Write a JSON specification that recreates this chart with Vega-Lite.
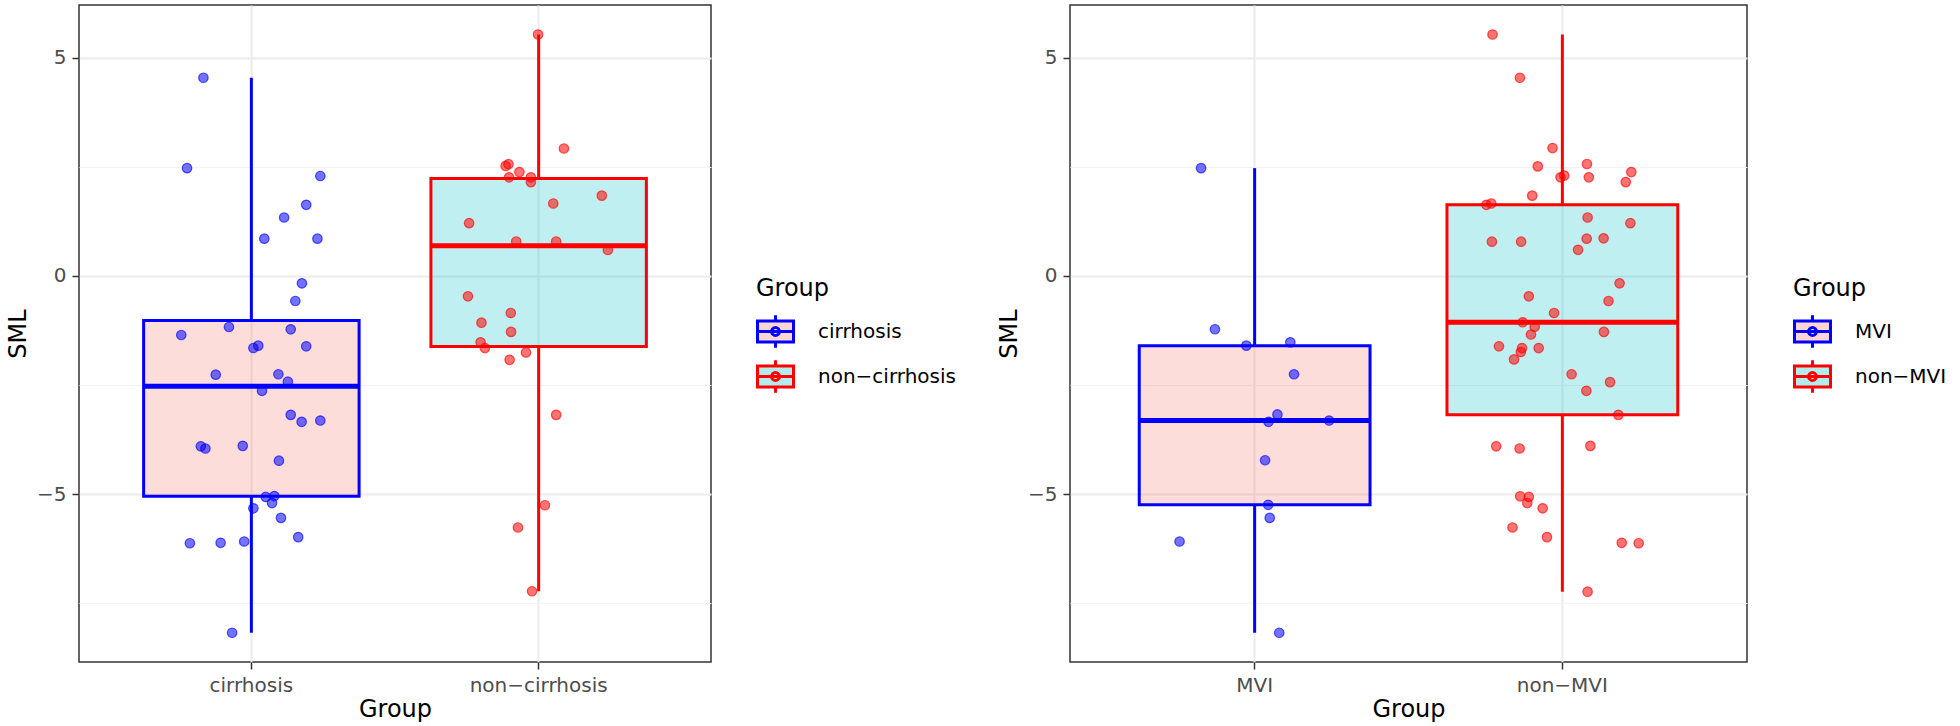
{
  "$schema": "https://vega.github.io/schema/vega-lite/v6.json",
  "background": "white",
  "padding": {"left": 5, "top": 4, "right": 0, "bottom": 0},
  "spacing": 39,
  "datasets": {
    "cirrhosis": [
      {"group": "cirrhosis", "sml": 4.54, "jitter": -0.167},
      {"group": "cirrhosis", "sml": 2.47, "jitter": -0.224},
      {"group": "cirrhosis", "sml": 2.29, "jitter": 0.24},
      {"group": "cirrhosis", "sml": 1.63, "jitter": 0.191},
      {"group": "cirrhosis", "sml": 1.34, "jitter": 0.114},
      {"group": "cirrhosis", "sml": 0.855, "jitter": 0.045},
      {"group": "cirrhosis", "sml": 0.855, "jitter": 0.23},
      {"group": "cirrhosis", "sml": -0.168, "jitter": 0.176},
      {"group": "cirrhosis", "sml": -0.573, "jitter": 0.153},
      {"group": "cirrhosis", "sml": -1.351, "jitter": -0.244},
      {"group": "cirrhosis", "sml": -1.168, "jitter": -0.078},
      {"group": "cirrhosis", "sml": -1.221, "jitter": 0.137},
      {"group": "cirrhosis", "sml": -1.649, "jitter": 0.007},
      {"group": "cirrhosis", "sml": -1.595, "jitter": 0.024},
      {"group": "cirrhosis", "sml": -1.61, "jitter": 0.191},
      {"group": "cirrhosis", "sml": -2.26, "jitter": -0.124},
      {"group": "cirrhosis", "sml": -2.25, "jitter": 0.094},
      {"group": "cirrhosis", "sml": -2.42, "jitter": 0.127},
      {"group": "cirrhosis", "sml": -2.63, "jitter": 0.037},
      {"group": "cirrhosis", "sml": -3.18, "jitter": 0.137},
      {"group": "cirrhosis", "sml": -3.34, "jitter": 0.175},
      {"group": "cirrhosis", "sml": -3.31, "jitter": 0.24},
      {"group": "cirrhosis", "sml": -3.9, "jitter": -0.176},
      {"group": "cirrhosis", "sml": -3.95, "jitter": -0.16},
      {"group": "cirrhosis", "sml": -3.89, "jitter": -0.03},
      {"group": "cirrhosis", "sml": -4.23, "jitter": 0.096},
      {"group": "cirrhosis", "sml": -5.06, "jitter": 0.05},
      {"group": "cirrhosis", "sml": -5.04, "jitter": 0.08},
      {"group": "cirrhosis", "sml": -5.2, "jitter": 0.072},
      {"group": "cirrhosis", "sml": -5.32, "jitter": 0.007},
      {"group": "cirrhosis", "sml": -5.54, "jitter": 0.103},
      {"group": "cirrhosis", "sml": -6.12, "jitter": -0.214},
      {"group": "cirrhosis", "sml": -6.11, "jitter": -0.107},
      {"group": "cirrhosis", "sml": -6.08, "jitter": -0.025},
      {"group": "cirrhosis", "sml": -5.98, "jitter": 0.163},
      {"group": "cirrhosis", "sml": -8.17, "jitter": -0.067},
      {"group": "non-cirrhosis", "sml": 5.53, "jitter": -0.002},
      {"group": "non-cirrhosis", "sml": 2.92, "jitter": 0.088},
      {"group": "non-cirrhosis", "sml": 2.52, "jitter": -0.115},
      {"group": "non-cirrhosis", "sml": 2.56, "jitter": -0.105},
      {"group": "non-cirrhosis", "sml": 2.38, "jitter": -0.067},
      {"group": "non-cirrhosis", "sml": 2.26, "jitter": -0.103},
      {"group": "non-cirrhosis", "sml": 2.26, "jitter": -0.027},
      {"group": "non-cirrhosis", "sml": 2.15, "jitter": -0.027},
      {"group": "non-cirrhosis", "sml": 1.84, "jitter": 0.22},
      {"group": "non-cirrhosis", "sml": 1.66, "jitter": 0.051},
      {"group": "non-cirrhosis", "sml": 1.21, "jitter": -0.242},
      {"group": "non-cirrhosis", "sml": 0.79, "jitter": -0.078},
      {"group": "non-cirrhosis", "sml": 0.79, "jitter": 0.061},
      {"group": "non-cirrhosis", "sml": 0.595, "jitter": 0.241},
      {"group": "non-cirrhosis", "sml": -0.466, "jitter": -0.246},
      {"group": "non-cirrhosis", "sml": -0.847, "jitter": -0.097},
      {"group": "non-cirrhosis", "sml": -1.07, "jitter": -0.199},
      {"group": "non-cirrhosis", "sml": -1.28, "jitter": -0.096},
      {"group": "non-cirrhosis", "sml": -1.52, "jitter": -0.202},
      {"group": "non-cirrhosis", "sml": -1.65, "jitter": -0.187},
      {"group": "non-cirrhosis", "sml": -1.75, "jitter": -0.044},
      {"group": "non-cirrhosis", "sml": -1.92, "jitter": -0.101},
      {"group": "non-cirrhosis", "sml": -3.18, "jitter": 0.061},
      {"group": "non-cirrhosis", "sml": -5.25, "jitter": 0.022},
      {"group": "non-cirrhosis", "sml": -5.76, "jitter": -0.072},
      {"group": "non-cirrhosis", "sml": -7.22, "jitter": -0.023}
    ],
    "mvi": [
      {"group": "MVI", "sml": 2.47, "jitter": -0.174},
      {"group": "MVI", "sml": -1.22, "jitter": -0.129},
      {"group": "MVI", "sml": -1.595, "jitter": -0.027},
      {"group": "MVI", "sml": -1.52, "jitter": 0.116},
      {"group": "MVI", "sml": -2.25, "jitter": 0.128},
      {"group": "MVI", "sml": -3.17, "jitter": 0.074},
      {"group": "MVI", "sml": -3.34, "jitter": 0.045},
      {"group": "MVI", "sml": -3.31, "jitter": 0.242},
      {"group": "MVI", "sml": -4.22, "jitter": 0.034},
      {"group": "MVI", "sml": -5.24, "jitter": 0.044},
      {"group": "MVI", "sml": -5.54, "jitter": 0.049},
      {"group": "MVI", "sml": -6.08, "jitter": -0.244},
      {"group": "MVI", "sml": -8.17, "jitter": 0.08},
      {"group": "non-MVI", "sml": 5.53, "jitter": -0.227},
      {"group": "non-MVI", "sml": 4.54, "jitter": -0.138},
      {"group": "non-MVI", "sml": 2.93, "jitter": -0.032},
      {"group": "non-MVI", "sml": 2.51, "jitter": -0.08},
      {"group": "non-MVI", "sml": 2.565, "jitter": 0.08},
      {"group": "non-MVI", "sml": 2.38, "jitter": 0.224},
      {"group": "non-MVI", "sml": 2.26, "jitter": -0.006},
      {"group": "non-MVI", "sml": 2.3, "jitter": 0.006},
      {"group": "non-MVI", "sml": 2.26, "jitter": 0.086},
      {"group": "non-MVI", "sml": 2.15, "jitter": 0.206},
      {"group": "non-MVI", "sml": 1.84, "jitter": -0.098},
      {"group": "non-MVI", "sml": 1.63, "jitter": -0.247},
      {"group": "non-MVI", "sml": 1.66, "jitter": -0.231},
      {"group": "non-MVI", "sml": 1.34, "jitter": 0.082},
      {"group": "non-MVI", "sml": 1.21, "jitter": 0.221},
      {"group": "non-MVI", "sml": 0.785, "jitter": -0.229},
      {"group": "non-MVI", "sml": 0.785, "jitter": -0.134},
      {"group": "non-MVI", "sml": 0.855, "jitter": 0.079},
      {"group": "non-MVI", "sml": 0.863, "jitter": 0.134},
      {"group": "non-MVI", "sml": 0.6, "jitter": 0.051},
      {"group": "non-MVI", "sml": -0.168, "jitter": 0.186},
      {"group": "non-MVI", "sml": -0.466, "jitter": -0.109},
      {"group": "non-MVI", "sml": -0.573, "jitter": 0.15},
      {"group": "non-MVI", "sml": -0.847, "jitter": -0.027},
      {"group": "non-MVI", "sml": -1.06, "jitter": -0.129},
      {"group": "non-MVI", "sml": -1.16, "jitter": -0.09},
      {"group": "non-MVI", "sml": -1.28, "jitter": 0.135},
      {"group": "non-MVI", "sml": -1.34, "jitter": -0.102},
      {"group": "non-MVI", "sml": -1.61, "jitter": -0.206},
      {"group": "non-MVI", "sml": -1.65, "jitter": -0.131},
      {"group": "non-MVI", "sml": -1.65, "jitter": -0.077},
      {"group": "non-MVI", "sml": -1.74, "jitter": -0.135},
      {"group": "non-MVI", "sml": -1.91, "jitter": -0.157},
      {"group": "non-MVI", "sml": -2.25, "jitter": 0.03},
      {"group": "non-MVI", "sml": -2.43, "jitter": 0.155},
      {"group": "non-MVI", "sml": -2.63, "jitter": 0.078},
      {"group": "non-MVI", "sml": -3.18, "jitter": 0.182},
      {"group": "non-MVI", "sml": -3.9, "jitter": -0.215},
      {"group": "non-MVI", "sml": -3.95, "jitter": -0.139},
      {"group": "non-MVI", "sml": -3.89, "jitter": 0.091},
      {"group": "non-MVI", "sml": -5.045, "jitter": -0.137},
      {"group": "non-MVI", "sml": -5.06, "jitter": -0.109},
      {"group": "non-MVI", "sml": -5.2, "jitter": -0.114},
      {"group": "non-MVI", "sml": -5.32, "jitter": -0.064},
      {"group": "non-MVI", "sml": -5.76, "jitter": -0.162},
      {"group": "non-MVI", "sml": -5.98, "jitter": -0.05},
      {"group": "non-MVI", "sml": -6.11, "jitter": 0.193},
      {"group": "non-MVI", "sml": -6.12, "jitter": 0.248},
      {"group": "non-MVI", "sml": -7.23, "jitter": 0.082}
    ]
  },
  "hconcat": [
    {
      "width": 632,
      "height": 657,
      "data": {"name": "cirrhosis"},
      "encoding": {
        "x": {"field": "group", "type": "nominal", "sort": ["cirrhosis", "non-cirrhosis"],
          "scale": {"paddingInner": 0.25, "paddingOuter": 0.225},
          "axis": {"title": "Group", "labelAngle": 0, "labelExpr": "replace(datum.label, '-', '−')", "grid": true, "bandPosition": 0.5, "titlePadding": 2, "labelPadding": 6}}
      },
      "layer": [
        {
          "transform": [{"aggregate": [
            {"op": "q1", "field": "sml", "as": "q1"},
            {"op": "q3", "field": "sml", "as": "q3"},
            {"op": "median", "field": "sml", "as": "median"},
            {"op": "min", "field": "sml", "as": "lo"},
            {"op": "max", "field": "sml", "as": "hi"}], "groupby": ["group"]}],
          "layer": [
            {"mark": {"type": "rule", "strokeWidth": 3},
             "encoding": {
               "y": {"field": "q3", "type": "quantitative", "scale": {"domain": [-8.84, 6.206], "nice": false, "zero": false}, "axis": {"title": "SML", "values": [-5, 0, 5], "grid": true, "orient": "left", "titlePadding": 6, "labelPadding": 6}},
               "y2": {"field": "hi"},
               "stroke": {"field": "group", "type": "nominal", "scale": {"domain": ["cirrhosis", "non-cirrhosis"], "range": ["#0000FF", "#FF0000"]}}}},
            {"mark": {"type": "rule", "strokeWidth": 3},
             "encoding": {
               "y": {"field": "lo", "type": "quantitative", "axis": {"title": "SML", "values": [-5, 0, 5], "grid": true, "orient": "left", "titlePadding": 6, "labelPadding": 6}},
               "y2": {"field": "q1"},
               "stroke": {"field": "group", "type": "nominal"}}},
            {"mark": {"type": "bar", "fillOpacity": 0.25, "strokeWidth": 3},
             "encoding": {
               "y": {"field": "q1", "type": "quantitative", "axis": {"title": "SML", "values": [-5, 0, 5], "grid": true, "orient": "left", "titlePadding": 6, "labelPadding": 6}},
               "y2": {"field": "q3"},
               "fill": {"field": "group", "type": "nominal", "scale": {"domain": ["cirrhosis", "non-cirrhosis"], "range": ["#F8766D", "#00BFC4"]},
                 "legend": {"title": "Group", "orient": "none", "legendX": 677, "legendY": 272, "symbolType": "M-1,-0.585H1V0.585H-1Z M-1,0H1 M0,-0.585V-0.9 M0,0.585V0.9 M-0.22,0A0.22,0.22 0 1,0 0.22,0A0.22,0.22 0 1,0 -0.22,0Z", "symbolSize": 1296, "symbolStrokeWidth": 3, "labelExpr": "replace(datum.label, '-', '−')", "labelOffset": 23, "rowPadding": 0, "titlePadding": 11, "padding": 0, "encode": {"symbols": {"update": {"fillOpacity": {"value": 0.3}}}}}},
               "stroke": {"field": "group", "type": "nominal",
                 "legend": {"title": "Group", "orient": "none", "legendX": 677, "legendY": 272, "symbolType": "M-1,-0.585H1V0.585H-1Z M-1,0H1 M0,-0.585V-0.9 M0,0.585V0.9 M-0.22,0A0.22,0.22 0 1,0 0.22,0A0.22,0.22 0 1,0 -0.22,0Z", "symbolSize": 1296, "symbolStrokeWidth": 3, "labelExpr": "replace(datum.label, '-', '−')", "labelOffset": 23, "rowPadding": 0, "titlePadding": 11, "padding": 0, "encode": {"symbols": {"update": {"fillOpacity": {"value": 0.3}}}}}}}},
            {"mark": {"type": "bar", "fillOpacity": 0, "strokeWidth": 5},
             "encoding": {
               "y": {"field": "median", "type": "quantitative", "axis": {"title": "SML", "values": [-5, 0, 5], "grid": true, "orient": "left", "titlePadding": 6, "labelPadding": 6}},
               "y2": {"field": "median"},
               "stroke": {"field": "group", "type": "nominal"}}}
          ]
        },
        {
          "mark": {"type": "circle", "size": 90, "fillOpacity": 0.55, "strokeOpacity": 0.65, "strokeWidth": 1.2},
          "encoding": {
            "xOffset": {"field": "jitter", "type": "quantitative", "scale": {"domain": [-0.375, 0.375]}},
            "y": {"field": "sml", "type": "quantitative", "axis": {"orient": "right", "values": [-7.5, -2.5, 2.5], "grid": true, "gridColor": "#F2F2F2", "gridWidth": 1.2, "labels": false, "ticks": false, "domain": false, "title": null}},
            "color": {"field": "group", "type": "nominal", "scale": {"domain": ["cirrhosis", "non-cirrhosis"], "range": ["#0000FF", "#FF0000"]}, "legend": null},
            "stroke": {"field": "group", "type": "nominal"}
          }
        }
      ],
      "resolve": {"axis": {"y": "independent"}, "scale": {"xOffset": "independent"}}
    },
    {
      "width": 677,
      "height": 657,
      "data": {"name": "mvi"},
      "encoding": {
        "x": {"field": "group", "type": "nominal", "sort": ["MVI", "non-MVI"],
          "scale": {"paddingInner": 0.25, "paddingOuter": 0.225},
          "axis": {"title": "Group", "labelAngle": 0, "labelExpr": "replace(datum.label, '-', '−')", "grid": true, "bandPosition": 0.5, "titlePadding": 2, "labelPadding": 6}}
      },
      "layer": [
        {
          "transform": [{"aggregate": [
            {"op": "q1", "field": "sml", "as": "q1"},
            {"op": "q3", "field": "sml", "as": "q3"},
            {"op": "median", "field": "sml", "as": "median"},
            {"op": "min", "field": "sml", "as": "lo"},
            {"op": "max", "field": "sml", "as": "hi"}], "groupby": ["group"]}],
          "layer": [
            {"mark": {"type": "rule", "strokeWidth": 3},
             "encoding": {
               "y": {"field": "q3", "type": "quantitative", "scale": {"domain": [-8.84, 6.206], "nice": false, "zero": false}, "axis": {"title": "SML", "values": [-5, 0, 5], "grid": true, "orient": "left", "titlePadding": 6, "labelPadding": 6}},
               "y2": {"field": "hi"},
               "stroke": {"field": "group", "type": "nominal", "scale": {"domain": ["MVI", "non-MVI"], "range": ["#0000FF", "#FF0000"]}}}},
            {"mark": {"type": "rule", "strokeWidth": 3},
             "encoding": {
               "y": {"field": "lo", "type": "quantitative", "axis": {"title": "SML", "values": [-5, 0, 5], "grid": true, "orient": "left", "titlePadding": 6, "labelPadding": 6}},
               "y2": {"field": "q1"},
               "stroke": {"field": "group", "type": "nominal"}}},
            {"mark": {"type": "bar", "fillOpacity": 0.25, "strokeWidth": 3},
             "encoding": {
               "y": {"field": "q1", "type": "quantitative", "axis": {"title": "SML", "values": [-5, 0, 5], "grid": true, "orient": "left", "titlePadding": 6, "labelPadding": 6}},
               "y2": {"field": "q3"},
               "fill": {"field": "group", "type": "nominal", "scale": {"domain": ["MVI", "non-MVI"], "range": ["#F8766D", "#00BFC4"]},
                 "legend": {"title": "Group", "orient": "none", "legendX": 723, "legendY": 272, "symbolType": "M-1,-0.585H1V0.585H-1Z M-1,0H1 M0,-0.585V-0.9 M0,0.585V0.9 M-0.22,0A0.22,0.22 0 1,0 0.22,0A0.22,0.22 0 1,0 -0.22,0Z", "symbolSize": 1296, "symbolStrokeWidth": 3, "labelExpr": "replace(datum.label, '-', '−')", "labelOffset": 23, "rowPadding": 0, "titlePadding": 11, "padding": 0, "encode": {"symbols": {"update": {"fillOpacity": {"value": 0.3}}}}}},
               "stroke": {"field": "group", "type": "nominal",
                 "legend": {"title": "Group", "orient": "none", "legendX": 723, "legendY": 272, "symbolType": "M-1,-0.585H1V0.585H-1Z M-1,0H1 M0,-0.585V-0.9 M0,0.585V0.9 M-0.22,0A0.22,0.22 0 1,0 0.22,0A0.22,0.22 0 1,0 -0.22,0Z", "symbolSize": 1296, "symbolStrokeWidth": 3, "labelExpr": "replace(datum.label, '-', '−')", "labelOffset": 23, "rowPadding": 0, "titlePadding": 11, "padding": 0, "encode": {"symbols": {"update": {"fillOpacity": {"value": 0.3}}}}}}}},
            {"mark": {"type": "bar", "fillOpacity": 0, "strokeWidth": 5},
             "encoding": {
               "y": {"field": "median", "type": "quantitative", "axis": {"title": "SML", "values": [-5, 0, 5], "grid": true, "orient": "left", "titlePadding": 6, "labelPadding": 6}},
               "y2": {"field": "median"},
               "stroke": {"field": "group", "type": "nominal"}}}
          ]
        },
        {
          "mark": {"type": "circle", "size": 90, "fillOpacity": 0.55, "strokeOpacity": 0.65, "strokeWidth": 1.2},
          "encoding": {
            "xOffset": {"field": "jitter", "type": "quantitative", "scale": {"domain": [-0.375, 0.375]}},
            "y": {"field": "sml", "type": "quantitative", "axis": {"orient": "right", "values": [-7.5, -2.5, 2.5], "grid": true, "gridColor": "#F2F2F2", "gridWidth": 1.2, "labels": false, "ticks": false, "domain": false, "title": null}},
            "color": {"field": "group", "type": "nominal", "scale": {"domain": ["MVI", "non-MVI"], "range": ["#0000FF", "#FF0000"]}, "legend": null},
            "stroke": {"field": "group", "type": "nominal"}
          }
        }
      ],
      "resolve": {"axis": {"y": "independent"}, "scale": {"xOffset": "independent"}}
    }
  ],
  "resolve": {
    "scale": {"x": "independent", "y": "independent", "xOffset": "independent", "fill": "independent", "stroke": "independent", "color": "independent"},
    "legend": {"fill": "independent", "stroke": "independent"}
  },
  "config": {
    "font": "DejaVu Sans",
    "view": {"stroke": "#333333", "strokeWidth": 1.5},
    "axis": {
      "labelFont": "DejaVu Sans", "labelFontSize": 20, "labelColor": "#4D4D4D",
      "titleFont": "DejaVu Sans", "titleFontSize": 24, "titleFontWeight": "normal", "titleColor": "#000000",
      "tickColor": "#333333", "tickWidth": 1.5, "tickSize": 7, "domain": false,
      "gridColor": "#EBEBEB", "gridWidth": 2
    },
    "legend": {
      "labelFont": "DejaVu Sans", "labelFontSize": 20, "labelColor": "#000000",
      "titleFont": "DejaVu Sans", "titleFontSize": 24, "titleFontWeight": "normal", "titleColor": "#000000"
    }
  }
}
